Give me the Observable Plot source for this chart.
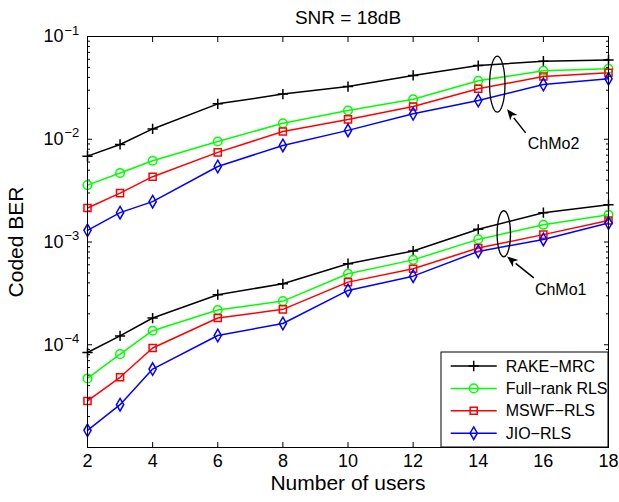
<!DOCTYPE html>
<html>
<head>
<meta charset="utf-8">
<script src="https://cdn.jsdelivr.net/npm/d3@7"></script>
<script src="https://cdn.jsdelivr.net/npm/@observablehq/plot@0.6"></script>
<style>
  body { margin: 0; background: #fff; }
  #chart svg { display: block; font-family: "Liberation Sans", Arial, sans-serif; }
</style>
</head>
<body>
<div id="chart"></div>
<script>
// Number of users on the x axis
const users = [2, 3, 4, 6, 8, 10, 12, 14, 16, 18];

// Receiver schemes, with their line colours and marker symbols
const methods = ["RAKE\u2212MRC", "Full\u2212rank RLS", "MSWF\u2212RLS", "JIO\u2212RLS"];
const colors = ["#000000", "#00ff00", "#ff0000", "#0000ff"];
const symbols = ["plus", "circle", "square", "diamond"];
const markerRadius = [3.4, 4.3, 4, 3.8];

// Coded BER, channel model 1
const rakeChMo1 = [8.4e-5, 1.22e-4, 1.82e-4, 3.07e-4, 3.92e-4, 6.15e-4, 8.17e-4, 1.33e-3, 1.93e-3, 2.31e-3];
const fullChMo1 = [4.7e-5, 8.1e-5, 1.37e-4, 2.18e-4, 2.66e-4, 4.91e-4, 6.7e-4, 1.06e-3, 1.47e-3, 1.84e-3];
const mswfChMo1 = [2.84e-5, 4.82e-5, 9.3e-5, 1.82e-4, 2.21e-4, 4.07e-4, 5.5e-4, 8.73e-4, 1.18e-3, 1.62e-3];
const jioChMo1  = [1.47e-5, 2.61e-5, 5.8e-5, 1.23e-4, 1.61e-4, 3.38e-4, 4.65e-4, 8.1e-4, 1.06e-3, 1.53e-3];

// Coded BER, channel model 2
const rakeChMo2 = [6.85e-3, 8.9e-3, 1.26e-2, 2.21e-2, 2.75e-2, 3.26e-2, 4.18e-2, 5.22e-2, 5.75e-2, 5.89e-2];
const fullChMo2 = [3.58e-3, 4.69e-3, 6.18e-3, 9.5e-3, 1.43e-2, 1.9e-2, 2.45e-2, 3.71e-2, 4.64e-2, 4.85e-2];
const mswfChMo2 = [2.14e-3, 2.99e-3, 4.32e-3, 7.45e-3, 1.19e-2, 1.56e-2, 2.08e-2, 3.10e-2, 4.08e-2, 4.44e-2];
const jioChMo2  = [1.30e-3, 1.93e-3, 2.47e-3, 5.43e-3, 8.7e-3, 1.22e-2, 1.77e-2, 2.38e-2, 3.41e-2, 3.88e-2];

// Axis ticks
const xTicks = [2, 4, 6, 8, 10, 12, 14, 16, 18];
const yDecades = [1e-5, 1e-4, 1e-3, 1e-2, 1e-1];
const yLabelled = [1e-4, 1e-3, 1e-2, 1e-1];
const yMinor = [1e-5, 1e-4, 1e-3, 1e-2].flatMap(d => [2, 3, 4, 5, 6, 7, 8, 9].map(m => m * d));

// Channel-model callouts: ellipse around the curves, arrow and label
const callouts = ["ChMo1", "ChMo2"];
const ellipseX = [14.8, 14.6];
const ellipseY = [1.19e-3, 3.4e-2];
const arrowFromX = [15.72, 15.47];
const arrowFromY = [4.43e-4, 1.14e-2];
const arrowToX = [14.9, 14.9];
const arrowToY = [7.13e-4, 1.94e-2];
const labelX = [15.74, 15.52];
const labelY = [3.43e-4, 9.1e-3];

const series = [
  ["ChMo1", [rakeChMo1, fullChMo1, mswfChMo1, jioChMo1]],
  ["ChMo2", [rakeChMo2, fullChMo2, mswfChMo2, jioChMo2]]
];
const rows = series.flatMap(([ch, sets]) =>
  sets.flatMap((vals, k) => vals.map((v, i) => ({channel: ch, method: methods[k], series: ch + " " + methods[k], users: users[i], ber: v})))
);
const calloutRows = callouts.map((c, i) => ({
  name: c, ex: ellipseX[i], ey: ellipseY[i],
  x1: arrowFromX[i], y1: arrowFromY[i], x2: arrowToX[i], y2: arrowToY[i],
  lx: labelX[i], ly: labelY[i]
}));

const font = "Liberation Sans, Arial, sans-serif";
const d3Symbols = {plus: d3.symbolPlus, circle: d3.symbolCircle, square: d3.symbolSquare, diamond: d3.symbolDiamond};

// ellipses and filled-head arrows placed with the plot scales
function calloutShapes(index, scales) {
  const g = d3.create("svg:g");
  for (const c of calloutRows) {
    g.append("ellipse")
      .attr("cx", scales.x(c.ex)).attr("cy", scales.y(c.ey))
      .attr("rx", c.name === "ChMo2" ? 7.7 : 6.7).attr("ry", c.name === "ChMo2" ? 28 : 23)
      .attr("fill", "none").attr("stroke", "black").attr("stroke-width", 1.3);
    const ax = scales.x(c.x1), ay = scales.y(c.y1), bx = scales.x(c.x2), by = scales.y(c.y2);
    const ang = Math.atan2(by - ay, bx - ax);
    const hl = 11, hw = 4.5;
    const baseX = bx - hl * Math.cos(ang), baseY = by - hl * Math.sin(ang);
    g.append("line").attr("x1", ax).attr("y1", ay).attr("x2", baseX).attr("y2", baseY)
      .attr("stroke", "black").attr("stroke-width", 1.5);
    const px = -Math.sin(ang), py = Math.cos(ang);
    g.append("path")
      .attr("d", `M${bx},${by}L${baseX + hw * px},${baseY + hw * py}L${baseX + 3 * Math.cos(ang)},${baseY + 3 * Math.sin(ang)}L${baseX - hw * px},${baseY - hw * py}Z`)
      .attr("fill", "black");
  }
  return g.node();
}

// boxed legend in the lower-right corner of the frame
function legend(index, scales, values, dims) {
  const right = dims.width - dims.marginRight;
  const bottom = dims.height - dims.marginBottom;
  const left = right - 167, top = bottom - 95;
  const g = d3.create("svg:g").attr("font-family", font).attr("font-size", 16).attr("text-anchor", "start");
  g.append("rect").attr("x", left).attr("y", top).attr("width", right - left).attr("height", bottom - top)
    .attr("fill", "white").attr("stroke", "black").attr("stroke-width", 1);
  methods.forEach((m, i) => {
    const y = top + 14 + i * 22.4;
    g.append("line").attr("x1", left + 9.7).attr("x2", left + 55.7).attr("y1", y).attr("y2", y)
      .attr("stroke", colors[i]).attr("stroke-width", 1.5);
    g.append("path")
      .attr("d", d3.symbol(d3Symbols[symbols[i]], Math.PI * markerRadius[i] ** 2)())
      .attr("transform", `translate(${left + 32.7},${y})`)
      .attr("fill", "none").attr("stroke", colors[i]).attr("stroke-width", 1.5);
    g.append("text").attr("x", left + 64.7).attr("y", y).attr("dy", "0.35em")
      .attr("text-anchor", "start").attr("fill", "black").text(m);
  });
  return g.node();
}

const chart = Plot.plot({
  width: 619,
  height: 502,
  marginTop: 36,
  marginBottom: 55,
  marginLeft: 87,
  marginRight: 11,
  style: {fontFamily: font, background: "white", color: "black"},
  x: {domain: [2, 18], axis: null},
  y: {type: "log", domain: [1e-5, 1e-1], axis: null},
  color: {domain: methods, range: colors},
  marks: [
    // inward ticks on all four sides
    Plot.axisX({anchor: "bottom", ticks: xTicks, tickSize: -5, tickFormat: () => "", label: null}),
    Plot.axisX({anchor: "top", ticks: xTicks, tickSize: -5, tickFormat: () => "", label: null}),
    Plot.axisY({anchor: "left", ticks: yDecades, tickSize: -5, tickFormat: () => "", label: null}),
    Plot.axisY({anchor: "left", ticks: yMinor, tickSize: -3, tickFormat: () => "", label: null}),
    Plot.axisY({anchor: "right", ticks: yDecades, tickSize: -5, tickFormat: () => "", label: null}),
    Plot.axisY({anchor: "right", ticks: yMinor, tickSize: -3, tickFormat: () => "", label: null}),
    // tick labels
    Plot.text(xTicks, {x: d => d, text: d => String(d), frameAnchor: "bottom", lineAnchor: "middle", dy: 14, fontSize: 18, fill: "black"}),
    Plot.text(yLabelled, {y: d => d, text: () => "10", frameAnchor: "left", lineAnchor: "middle", textAnchor: "end", dx: -24, fontSize: 18, fill: "black"}),
    Plot.text(yLabelled, {y: d => d, text: d => "\u2212" + Math.round(-Math.log10(d)), frameAnchor: "left", lineAnchor: "middle", textAnchor: "start", dx: -23, dy: -6, fontSize: 13, fill: "black"}),
    // curves
    Plot.line(rows, {x: "users", y: "ber", z: "series", stroke: "method", strokeWidth: 1.5}),
    ...methods.map((m, k) => Plot.dot(rows.filter(r => r.method === m), {
      x: "users", y: "ber", symbol: symbols[k], r: markerRadius[k], stroke: colors[k], strokeWidth: 1.5, fill: "none"
    })),
    // callouts
    calloutShapes,
    Plot.text(calloutRows, {x: "lx", y: "ly", text: "name", textAnchor: "start", fontSize: 16, fill: "black"}),
    legend,
    Plot.frame({stroke: "black", strokeWidth: 1}),
    // title and axis labels
    Plot.text(["SNR = 18dB"], {frameAnchor: "top", lineAnchor: "middle", dy: -19, fontSize: 19, fill: "black"}),
    Plot.text(["Number of users"], {frameAnchor: "bottom", lineAnchor: "middle", dy: 36, fontSize: 21, fill: "black"}),
    Plot.text(["Coded BER"], {frameAnchor: "left", lineAnchor: "middle", textAnchor: "middle", dx: -71, rotate: -90, fontSize: 21, fill: "black"})
  ]
});

document.getElementById("chart").append(chart);
</script>
</body>
</html>
